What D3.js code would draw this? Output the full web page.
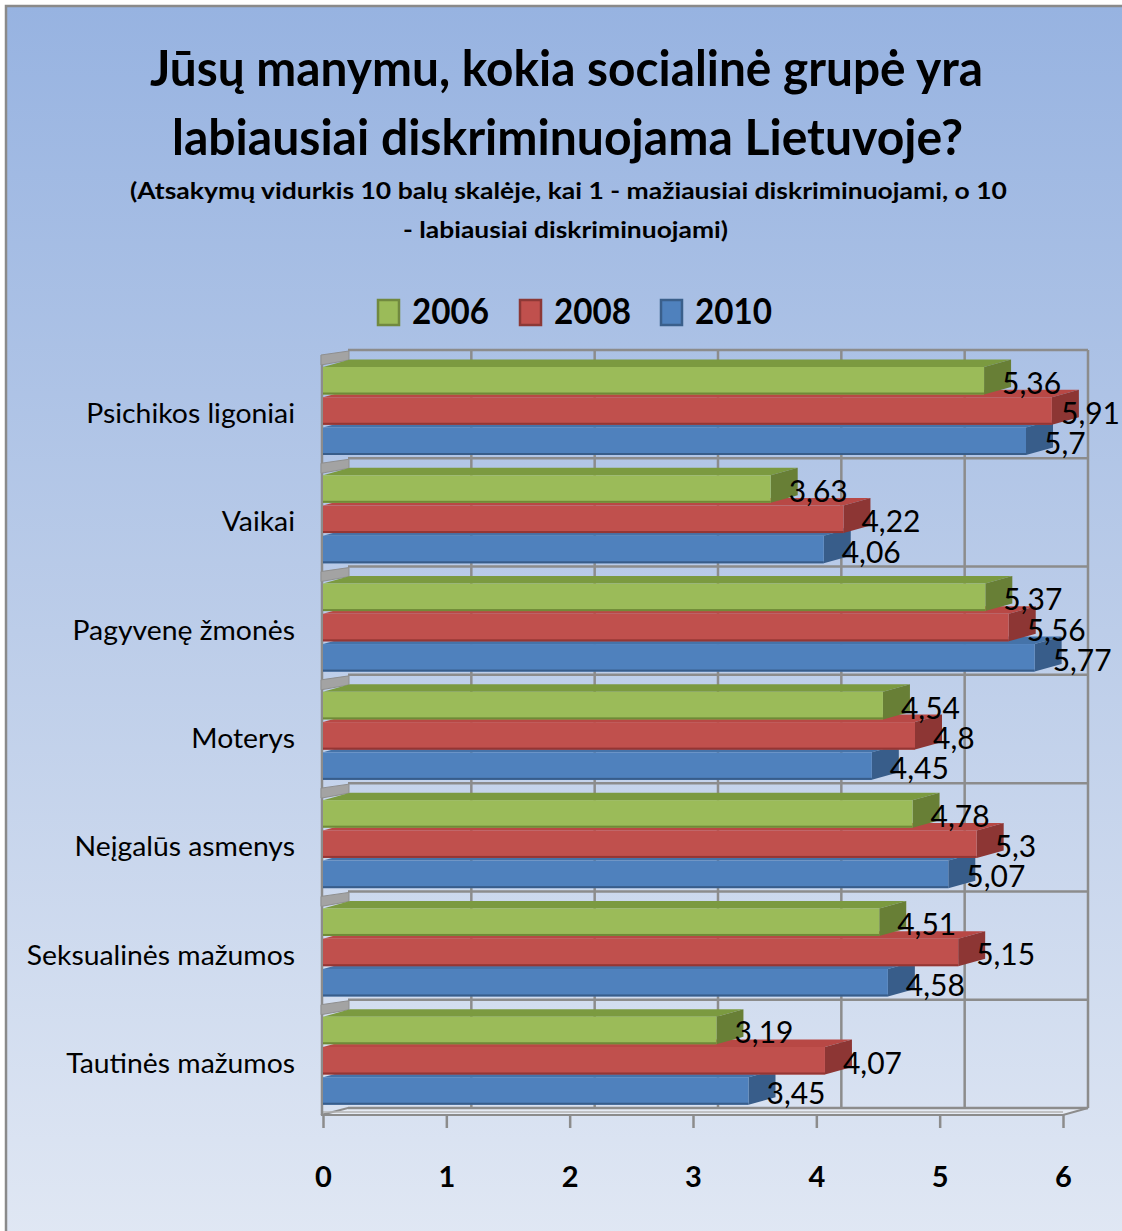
<!DOCTYPE html>
<html>
<head>
<meta charset="utf-8">
<script src="https://cdn.jsdelivr.net/npm/d3@7/dist/d3.min.js"></script>
<style>
  html, body { margin: 0; padding: 0; background: #ffffff; }
  svg { display: block; }
  text { font-family: Lato, "Open Sans", "Noto Sans", sans-serif; fill: #000; }
</style>
</head>
<body>
<div id="chart"></div>
<script>
// ---------------- data ----------------
const categories = ["Psichikos ligoniai", "Vaikai", "Pagyvenę žmonės", "Moterys",
                    "Neįgalūs asmenys", "Seksualinės mažumos", "Tautinės mažumos"];
const seriesNames = ["2006", "2008", "2010"];
const values2006 = [5.36, 3.63, 5.37, 4.54, 4.78, 4.51, 3.19];
const values2008 = [5.91, 4.22, 5.56, 4.8, 5.3, 5.15, 4.07];
const values2010 = [5.7, 4.06, 5.77, 4.45, 5.07, 4.58, 3.45];
const xTicks = [0, 1, 2, 3, 4, 5, 6];
const titleLines = ["Jūsų manymu, kokia socialinė grupė yra", "labiausiai diskriminuojama Lietuvoje?"];
const subtitleLines = ["(Atsakymų vidurkis 10 balų skalėje, kai 1 - mažiausiai diskriminuojami, o 10",
                       "- labiausiai diskriminuojami)"];

const seriesValues = [values2006, values2008, values2010];
const colors = {
  front: ["#9bbb59", "#c0504d", "#4f81bd"],
  top:   ["#7b9a40", "#b84845", "#4573a9"],
  side:  ["#687f36", "#8d3634", "#385d8a"],
  edge:  ["#6f8a38", "#943634", "#385d8a"],
  legendStroke: ["#71893f", "#8c3836", "#3a5f8b"]
};

const W = 1122, H = 1231;
const svg = d3.select("#chart").append("svg").attr("width", W).attr("height", H);

const defs = svg.append("defs");
const grad = defs.append("linearGradient").attr("id", "bg").attr("x1", 0).attr("y1", 0).attr("x2", 0).attr("y2", 1);
grad.append("stop").attr("offset", "0%").attr("stop-color", "#97b3e1");
grad.append("stop").attr("offset", "50%").attr("stop-color", "#bccde9");
grad.append("stop").attr("offset", "100%").attr("stop-color", "#e1e8f4");

// background + border
svg.append("rect").attr("x", 6).attr("y", 6).attr("width", W + 20).attr("height", H + 20)
  .attr("fill", "url(#bg)").attr("stroke", "#8a8a8a").attr("stroke-width", 2.5);

// ---------------- scales ----------------
const x = d3.scaleLinear().domain([0, 6]).range([323, 1063]);
const y = d3.scaleBand().domain(categories).range([357, 1115]).padding(0);
const ys = d3.scaleBand().domain(seriesNames).range([10, 98]).paddingInner(0.09);

const wallDX = 25, wallDY = 7;   // back wall offset
const barDX = 27, barDY = 7.5;   // bar depth offset
const gridColor = "#8c8c8c";

// ---------------- walls & gridlines ----------------
const walls = svg.append("g");
const yBackTop = y.range()[0] - wallDY, yBackBot = y.range()[1] - wallDY;

// floor slab
walls.append("polygon")
  .attr("points", [[321, y.range()[1]], [x(6), y.range()[1]], [x(6) + wallDX, yBackBot], [x(0) + wallDX, yBackBot]].join(" "))
  .attr("fill", "#e6ebf4").attr("stroke", gridColor).attr("stroke-width", 2);
walls.append("line").attr("x1", 323).attr("x2", x(6)).attr("y1", y.range()[1] - 3).attr("y2", y.range()[1] - 3)
  .attr("stroke", "#b5b5b5").attr("stroke-width", 1.5);

// vertical gridlines on back wall
walls.selectAll("line.vgrid").data(xTicks.filter(d => d > 0)).join("line")
  .attr("x1", d => x(d) + wallDX).attr("x2", d => x(d) + wallDX)
  .attr("y1", yBackTop).attr("y2", yBackBot)
  .attr("stroke", gridColor).attr("stroke-width", 2.5);

// category boundary lines on back wall
const boundaries = categories.map(c => y(c)).concat([y.range()[1]]);
walls.selectAll("line.hgrid").data(boundaries).join("line")
  .attr("x1", x(0) + wallDX).attr("x2", x(6) + wallDX)
  .attr("y1", d => d - wallDY).attr("y2", d => d - wallDY)
  .attr("stroke", gridColor).attr("stroke-width", 2.5);

// left wall front edge
walls.append("line").attr("x1", 322).attr("x2", 322).attr("y1", y.range()[0] - 2).attr("y2", y.range()[1])
  .attr("stroke", gridColor).attr("stroke-width", 2.5);

// left wall slanted bands
walls.selectAll("polygon.lw").data(boundaries.slice(0, -1)).join("polygon")
  .attr("points", d => [[321, d - 2], [x(0) + wallDX + 1, d - 6], [x(0) + wallDX + 1, d + 3], [321, d + 8]].join(" "))
  .attr("fill", "#a3a3a3").attr("stroke", "#8f8f8f").attr("stroke-width", 1);

// ---------------- bars ----------------
const bars = svg.append("g");
categories.forEach((cat, ci) => {
  // draw bottom bar first so upper bars overlap properly
  [2, 1, 0].forEach(si => {
    const v = seriesValues[si][ci];
    const y0 = y(cat) + ys(seriesNames[si]);
    const h = ys.bandwidth();
    const x0 = x(0), x1 = x(v);
    const g = bars.append("g");
    g.append("polygon")
      .attr("points", [[x0, y0], [x0 + barDX, y0 - barDY], [x1 + barDX, y0 - barDY], [x1, y0]].join(" "))
      .attr("fill", colors.top[si]);
    g.append("polygon")
      .attr("points", [[x1, y0], [x1 + barDX, y0 - barDY], [x1 + barDX, y0 + h - barDY], [x1, y0 + h]].join(" "))
      .attr("fill", colors.side[si]);
    g.append("rect").attr("x", x0).attr("y", y0).attr("width", x1 - x0).attr("height", h)
      .attr("fill", colors.front[si]);
    g.append("rect").attr("x", x0).attr("y", y0 + h - 2).attr("width", x1 - x0).attr("height", 2)
      .attr("fill", colors.edge[si]);
  });
});

// ---------------- value labels ----------------
const fmt = v => String(v).replace(".", ",");
const labels = svg.append("g");
categories.forEach((cat, ci) => {
  seriesNames.forEach((s, si) => {
    const v = seriesValues[si][ci];
    const t = labels.append("text")
      .attr("x", x(v) + 18)
      .attr("y", y(cat) + ys(s) + ys.bandwidth() / 2 + 1)
      .attr("dominant-baseline", "central")
      .attr("font-size", 30)
      .text(fmt(v));
    const w = t.node().getComputedTextLength();
    if (x(v) + 18 + w > W - 2) t.attr("x", W - 2 - w);
  });
});

// ---------------- category labels ----------------
svg.append("g").selectAll("text").data(categories).join("text")
  .attr("x", 295).attr("y", d => y(d) + y.bandwidth() / 2 + 2)
  .attr("text-anchor", "end").attr("dominant-baseline", "central")
  .attr("font-size", 26)
  .text(d => d)
  .each(function() {
    const w = this.getComputedTextLength();
    d3.select(this).attr("textLength", w * 1.09).attr("lengthAdjust", "spacingAndGlyphs");
  });

// ---------------- x axis ----------------
const axisG = svg.append("g").attr("transform", `translate(0,${y.range()[1]})`)
  .call(d3.axisBottom(x).tickValues(xTicks).tickSize(13).tickSizeOuter(0).tickFormat(d3.format("d")));
axisG.select(".domain").remove();
axisG.selectAll(".tick line").attr("stroke", gridColor).attr("stroke-width", 2.5);
axisG.selectAll(".tick text").attr("y", 62).attr("dy", "0.35em")
  .attr("font-size", 29).attr("font-weight", 700).attr("fill", "#000")
  .style("font-family", "Lato, 'Open Sans', sans-serif");

// ---------------- title ----------------
const titleSpecs = [{x: 150, w: 833, y: 86}, {x: 172, w: 791, y: 155}];
svg.append("g").selectAll("text").data(titleLines).join("text")
  .attr("x", (d, i) => titleSpecs[i].x).attr("y", (d, i) => titleSpecs[i].y)
  .attr("textLength", (d, i) => titleSpecs[i].w).attr("lengthAdjust", "spacingAndGlyphs")
  .attr("font-size", 50).attr("font-weight", 700)
  .text(d => d);

const subSpecs = [{x: 130, w: 877, y: 199}, {x: 403, w: 325, y: 238}];
svg.append("g").selectAll("text").data(subtitleLines).join("text")
  .attr("x", (d, i) => subSpecs[i].x).attr("y", (d, i) => subSpecs[i].y)
  .attr("textLength", (d, i) => subSpecs[i].w).attr("lengthAdjust", "spacingAndGlyphs")
  .attr("font-size", 22).attr("font-weight", 700)
  .text(d => d);

// ---------------- legend ----------------
const legendX = [377, 519, 660];
const legend = svg.append("g").selectAll("g").data(seriesNames).join("g")
  .attr("transform", (d, i) => `translate(${legendX[i]},299)`);
legend.append("rect").attr("x", 1).attr("y", 1).attr("width", 21).attr("height", 25)
  .attr("fill", (d, i) => colors.front[i]).attr("stroke", (d, i) => colors.legendStroke[i]).attr("stroke-width", 2.5);
legend.append("text").attr("x", 35).attr("y", 25)
  .attr("textLength", 77).attr("lengthAdjust", "spacingAndGlyphs")
  .attr("font-size", 37).attr("font-weight", 700)
  .text(d => d);
</script>
</body>
</html>
